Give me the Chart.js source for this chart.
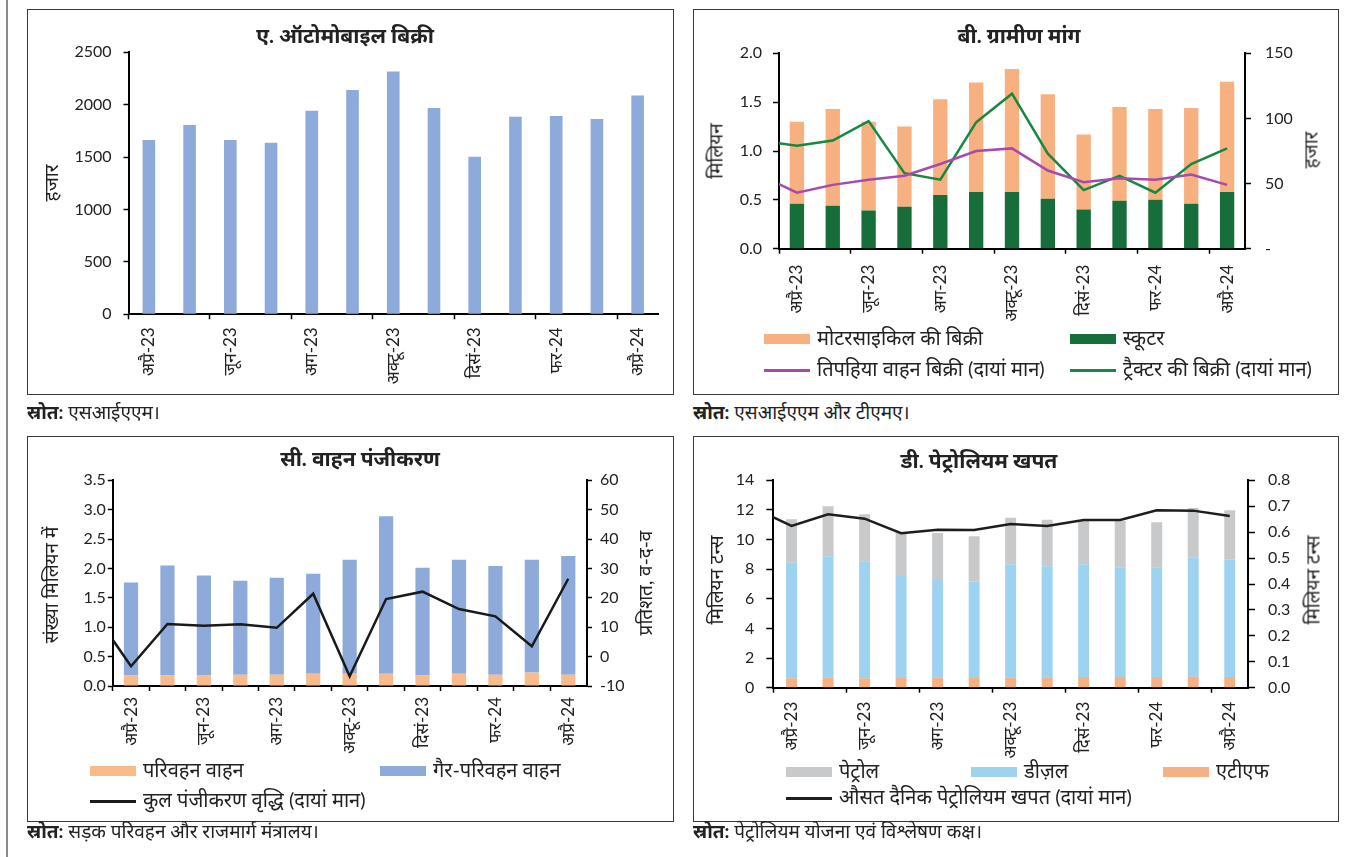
<!DOCTYPE html>
<html lang="hi">
<head>
<meta charset="UTF-8">
<title>वाहन बिक्री, ग्रामीण मांग और पेट्रोलियम खपत</title>
<script src="https://cdn.jsdelivr.net/npm/chart.js"></script>
<style>
    body { margin: 0; width: 1358px; height: 857px; background: #fff; position: relative; overflow: hidden;
           font-family: Lato, 'Noto Sans Devanagari', 'Noto Sans', sans-serif; color: #222; }
    .rule { position: absolute; left: 6px; top: 0; width: 2px; height: 857px; background: #8a8a8a; }
    .panel { position: absolute; border: 1.5px solid #3a3a3a; box-sizing: border-box; }
    canvas { position: absolute; }
    .title { position: absolute; font-weight: bold; font-size: 21px; transform: translate(-50%, -50%); white-space: nowrap; }
    .ytitle { position: absolute; font-size: 19px; transform: translate(-50%, -50%) rotate(-90deg); white-space: nowrap; }
    .leg { position: absolute; font-size: 20px; white-space: nowrap; display: flex; align-items: center; transform: translateY(-50%); }
    .sw { display: inline-block; width: 46px; height: 10px; margin-right: 7px; }
    .source { position: absolute; font-size: 19px; transform: translateY(-50%); white-space: nowrap; }
</style>
</head>
<body>
<div class="rule"></div>

<div class="panel" style="left:27px; top:9px; width:647px; height:386px;"></div>
<div class="panel" style="left:693px; top:9px; width:646px; height:386px;"></div>
<div class="panel" style="left:27px; top:436px; width:647px; height:386px;"></div>
<div class="panel" style="left:693px; top:436px; width:646px; height:386px;"></div>

<canvas id="chartA" width="647" height="386" style="left:27px; top:9px;"></canvas>
<canvas id="chartB" width="646" height="386" style="left:693px; top:9px;"></canvas>
<canvas id="chartC" width="647" height="386" style="left:27px; top:436px;"></canvas>
<canvas id="chartD" width="646" height="386" style="left:693px; top:436px;"></canvas>

<div class="title" style="left:345px; top:37px;">ए. ऑटोमोबाइल बिक्री</div>
<div class="title" style="left:1019px; top:37px;">बी. ग्रामीण मांग</div>
<div class="title" style="left:360px; top:460px;">सी. वाहन पंजीकरण</div>
<div class="title" style="left:979px; top:462px;">डी. पेट्रोलियम खपत</div>

<div class="ytitle" style="left:52px; top:183px;">हजार</div>
<div class="ytitle" style="left:717px; top:151px;">मिलियन</div>
<div class="ytitle" style="left:1312px; top:150px;">हजार</div>
<div class="ytitle" style="left:52px; top:585px;">संख्या मिलियन में</div>
<div class="ytitle" style="left:646px; top:583px;">प्रतिशत, व-द-व</div>
<div class="ytitle" style="left:717px; top:580px;">मिलियन टन्स</div>
<div class="ytitle" style="left:1314px; top:580px;">मिलियन टन्स</div>

<div class="source" style="left:27px; top:413px;"><b>स्रोत:</b> एसआईएएम।</div>
<div class="source" style="left:693px; top:413px;"><b>स्रोत:</b> एसआईएएम और टीएमए।</div>
<div class="source" style="left:27px; top:832px;"><b>स्रोत:</b> सड़क परिवहन और राजमार्ग मंत्रालय।</div>
<div class="source" style="left:693px; top:832px;"><b>स्रोत:</b> पेट्रोलियम योजना एवं विश्लेषण कक्ष।</div>

<script>
    // first month only feeds the start of the lines (clipped at the axis)
    const months = ['मार्च-23', 'अप्रै-23', 'मई-23', 'जून-23', 'जुला-23', 'अग-23', 'सितं-23', 'अक्टू-23',
                    'नवं-23', 'दिसं-23', 'जन-24', 'फर-24', 'मार्च-24', 'अप्रै-24'];

    // A. automobile sales, thousand
    const autoSales = [null, 1663, 1807, 1663, 1638, 1943, 2141, 2316, 1969, 1504, 1886, 1892, 1864, 2087];

    // B. rural demand
    const scooter = [null, 0.46, 0.44, 0.39, 0.43, 0.55, 0.58, 0.58, 0.51, 0.40, 0.49, 0.50, 0.46, 0.58];
    const motorcycle = [null, 0.84, 0.99, 0.91, 0.82, 0.98, 1.12, 1.26, 1.07, 0.77, 0.96, 0.93, 0.98, 1.13];
    const threeWheeler = [56, 43, 49, 53, 56, 65, 75, 77, 60, 51, 54, 53, 57, 49];
    const tractor = [83, 79, 83, 98, 58, 53, 97, 119, 73, 45, 56, 43, 65, 77];

    // C. vehicle registration
    const transport = [null, 0.18, 0.18, 0.18, 0.19, 0.19, 0.21, 0.21, 0.21, 0.18, 0.21, 0.19, 0.23, 0.19];
    const nonTransport = [null, 1.58, 1.87, 1.70, 1.60, 1.65, 1.70, 1.94, 2.68, 1.83, 1.94, 1.85, 1.92, 2.02];
    const regGrowth = [14.7, -3.3, 11.1, 10.5, 11.0, 9.8, 21.4, -6.7, 19.6, 22.1, 16.2, 13.7, 3.5, 26.5];

    // D. petroleum consumption
    const atf = [null, 0.63, 0.68, 0.63, 0.65, 0.70, 0.65, 0.70, 0.70, 0.72, 0.72, 0.72, 0.74, 0.72];
    const diesel = [null, 7.81, 8.19, 7.90, 6.89, 6.64, 6.51, 7.63, 7.49, 7.61, 7.41, 7.41, 8.04, 7.92];
    const petrol = [null, 2.93, 3.37, 3.17, 2.97, 3.10, 3.06, 3.15, 3.15, 2.92, 3.12, 3.03, 3.35, 3.33];
    const avgDaily = [0.69, 0.624, 0.669, 0.652, 0.596, 0.609, 0.608, 0.631, 0.624, 0.647, 0.647, 0.684, 0.683, 0.662];

    Chart.defaults.font.family = "Lato, 'Noto Sans Devanagari', 'Noto Sans', sans-serif";
    Chart.defaults.font.size = 16;
    Chart.defaults.color = '#222';

    function monthAxis(height, everyTick, pad) {
        return {
            type: 'category', min: months[1], offset: true, stacked: true,
            border: { color: '#000', width: 2 },
            grid: {
                offset: true, drawOnChartArea: false, tickLength: 5, tickWidth: 1.5,
                tickColor: ctx => {
                    if (ctx.index === undefined) return 'rgba(0,0,0,0)';
                    return (everyTick || ctx.index % 2 === 0) ? '#000' : 'rgba(0,0,0,0)';
                }
            },
            ticks: {
                autoSkip: false, minRotation: 90, maxRotation: 90, padding: pad,
                font: { size: 17 },
                callback: function (v, i) { return i % 2 === 0 ? this.getLabelForValue(v) : ''; }
            },
            afterFit: s => { s.height = height; }
        };
    }

    function valueAxis(pos, width, min, max, step, tl, pad, fmt, stacked) {
        return {
            position: pos, min: min, max: max, stacked: !!stacked,
            border: { color: '#000', width: 2 },
            grid: { drawOnChartArea: false, tickLength: tl, tickWidth: 1.5, tickColor: '#000' },
            ticks: { stepSize: step, padding: pad, callback: fmt },
            afterFit: s => { s.width = width; }
        };
    }

    function bar(label, data, color) {
        return { type: 'bar', label: label, data: data, backgroundColor: color, borderWidth: 0, order: 1, yAxisID: 'y' };
    }
    function line(label, data, color) {
        return { type: 'line', label: label, data: data, borderColor: color, backgroundColor: color, borderWidth: 2.5,
                 pointRadius: 0, tension: 0, order: 0, yAxisID: 'y1' };
    }

    function makeChart(id, datasets, scales, padding, barPct) {
        return new Chart(document.getElementById(id), {
            type: 'bar',
            data: { labels: months, datasets: datasets },
            options: {
                responsive: false, animation: false,
                layout: { padding: padding },
                datasets: { bar: { categoryPercentage: 1, barPercentage: barPct } },
                plugins: { legend: { display: false }, tooltip: { enabled: false } },
                scales: scales
            }
        });
    }

    const oneDec = v => v.toFixed(1);
    const plain = v => v;

    makeChart('chartA',
        [bar('ऑटोमोबाइल बिक्री', autoSales, '#8eaadb')],
        { x: monthAxis(80.7, false, 8), y: valueAxis('left', 101.5, 0, 2500, 500, 5, 12, plain, true) },
        { top: 43.3, left: 0, right: 16, bottom: 0 }, 0.31);

    const chartB = makeChart('chartB',
        [bar('स्कूटर', scooter, '#176e3a'),
         bar('मोटरसाइकिल की बिक्री', motorcycle, '#f7b07f'),
         line('तिपहिया वाहन बिक्री (दायां मान)', threeWheeler, '#a64bab'),
         line('ट्रैक्टर की बिक्री (दायां मान)', tractor, '#16893f')],
        { x: monthAxis(146.3, false, 11),
          y: valueAxis('left', 86, 0, 2, 0.5, 6, 11, oneDec, true),
          y1: valueAxis('right', 94, 0, 150, 50, 6, 14, v => v === 0 ? '-' : v) },
        { top: 44.3, left: 0, right: 0, bottom: 0 }, 0.4);

    const chartC = makeChart('chartC',
        [bar('परिवहन वाहन', transport, '#f7bb8c'),
         bar('गैर-परिवहन वाहन', nonTransport, '#8eaadb'),
         line('कुल पंजीकरण वृद्धि (दायां मान)', regGrowth, '#1a1a1a')],
        { x: monthAxis(136, true, 6),
          y: valueAxis('left', 85.8, 0, 3.5, 0.5, 5, 2, oneDec, true),
          y1: valueAxis('right', 87.5, -10, 60, 10, 5.5, 8, plain) },
        { top: 44.3, left: 0, right: 0, bottom: 0 }, 0.39);

    const chartD = makeChart('chartD',
        [bar('एटीएफ', atf, '#f4b183'),
         bar('डीज़ल', diesel, '#9dd2f0'),
         bar('पेट्रोल', petrol, '#c8c9cb'),
         line('औसत दैनिक पेट्रोलियम खपत (दायां मान)', avgDaily, '#1e1e1e')],
        { x: monthAxis(134.3, false, 9),
          y: valueAxis('left', 80.3, 0, 14, 2, 7, 12, plain, true),
          y1: valueAxis('right', 91, 0, 0.8, 0.1, 7, 13, oneDec) },
        { top: 44.3, left: 0, right: 0, bottom: 0 }, 0.3);

    // html legends, laid out like the original two-column boxes
    function legend(chart, items) {
        items.forEach(([idx, x, y]) => {
            const ds = chart.data.datasets[idx];
            const el = document.createElement('div');
            el.className = 'leg';
            el.style.left = x + 'px';
            el.style.top = y + 'px';
            const sw = document.createElement('span');
            sw.className = 'sw';
            if (ds.type === 'line') { sw.style.height = '3px'; sw.style.background = ds.borderColor; }
            else sw.style.background = ds.backgroundColor;
            el.appendChild(sw);
            el.appendChild(document.createTextNode(ds.label));
            document.body.appendChild(el);
        });
    }

    legend(chartB, [[1, 764, 339], [0, 1070, 339], [2, 764, 370], [3, 1070, 370]]);
    legend(chartC, [[0, 90, 771], [1, 380, 771], [2, 90, 801]]);
    legend(chartD, [[2, 786, 772], [1, 971, 772], [0, 1163, 772], [3, 786, 798]]);
</script>
</body>
</html>
